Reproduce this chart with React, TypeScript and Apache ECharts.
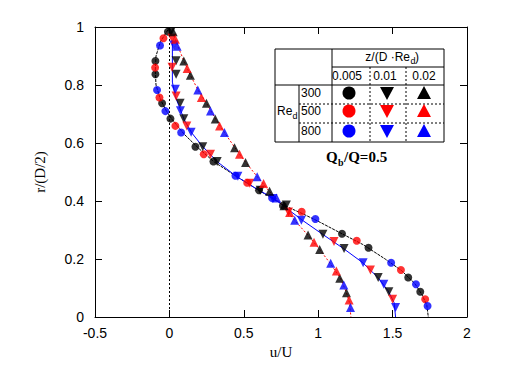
import React, { useEffect, useRef } from "react";
import * as echarts from "echarts";

// Measured points [u/U, r/(D/2)]
const re300_z005 = [[-0.01,0.984],[-0.094,0.883],[-0.094,0.837],[-0.049,0.737],[0.007,0.684],[0.175,0.587],[0.296,0.536],[0.602,0.437],[0.763,0.384],[1.16,0.287],[1.338,0.239],[1.605,0.136],[1.686,0.087]];
const re500_z005 = [[-0.04,0.961],[-0.096,0.86],[-0.067,0.757],[0.04,0.659],[0.231,0.561],[0.523,0.463],[0.889,0.363],[1.259,0.263],[1.556,0.162],[1.719,0.061]];
const re800_z005 = [[-0.063,0.936],[-0.083,0.783],[-0.027,0.71],[0.079,0.636],[0.444,0.487],[0.69,0.41],[0.981,0.338],[1.49,0.187],[1.657,0.113],[1.735,0.038]];

const re300_z001 = [[0.011,0.984],[0.045,0.884],[0.045,0.837],[0.072,0.737],[0.097,0.684],[0.224,0.587],[0.321,0.536],[0.61,0.437],[0.786,0.386],[1.032,0.285],[1.174,0.236],[1.403,0.136],[1.475,0.087]];
const re500_z001 = [[0.018,0.961],[0.018,0.861],[0.045,0.762],[0.117,0.659],[0.276,0.561],[0.54,0.461],[0.8,0.362],[1.106,0.26],[1.351,0.162],[1.5,0.061]];
const re800_z001 = [[0.029,0.938],[0.04,0.785],[0.074,0.711],[0.146,0.637],[0.46,0.485],[0.696,0.409],[0.887,0.334],[1.302,0.187],[1.441,0.113],[1.52,0.033]];

const re300_z002 = [[0.025,0.984],[0.097,0.883],[0.141,0.834],[0.249,0.737],[0.308,0.683],[0.438,0.584],[0.512,0.533],[0.673,0.434],[0.77,0.384],[0.932,0.283],[1.01,0.233],[1.145,0.134],[1.19,0.084]];
const re500_z002 = [[0.04,0.958],[0.119,0.857],[0.215,0.757],[0.337,0.659],[0.471,0.561],[0.633,0.46],[0.808,0.36],[0.972,0.258],[1.122,0.159],[1.208,0.059]];
const re800_z002 = [[0.052,0.934],[0.191,0.783],[0.276,0.71],[0.37,0.636],[0.59,0.484],[0.72,0.41],[0.842,0.334],[1.084,0.185],[1.172,0.11],[1.217,0.033]];

// Curves traced along the profiles
const curve_z005 = [[-0.01,0.99],[-0.06,0.95],[-0.09,0.9],[-0.095,0.85],[-0.09,0.8],[-0.06,0.75],[-0.02,0.71],[0.02,0.68],[0.1,0.63],[0.2,0.58],[0.3,0.535],[0.45,0.485],[0.6,0.437],[0.77,0.385],[0.9,0.355],[1.0,0.33],[1.16,0.287],[1.3,0.25],[1.45,0.2],[1.56,0.16],[1.65,0.115],[1.7,0.075],[1.73,0.04],[1.74,0.0]];
const curve_z001 = [[0.02,0.95],[0.02,0.81],[0.04,0.76],[0.07,0.72],[0.1,0.68],[0.15,0.635],[0.22,0.59],[0.32,0.536],[0.45,0.485],[0.6,0.437],[0.7,0.41],[0.8,0.37],[0.89,0.335],[1.03,0.285],[1.17,0.236],[1.3,0.187],[1.4,0.137],[1.47,0.09],[1.51,0.05],[1.52,0.0]];
const curve_z002 = [[0.03,0.97],[0.06,0.93],[0.1,0.88],[0.14,0.835],[0.19,0.785],[0.25,0.737],[0.31,0.683],[0.37,0.636],[0.44,0.584],[0.51,0.535],[0.59,0.484],[0.67,0.434],[0.76,0.385],[0.84,0.334],[0.93,0.283],[1.01,0.233],[1.08,0.185],[1.15,0.134],[1.19,0.084],[1.21,0.05],[1.22,0.0]];

const zLevels = ["0.005", "0.01", "0.02"];
const reLevels = ["300", "500", "800"];

const BLACK = "#000000";
const RED = "#ff0000";
const BLUE = "#0000ff";

export default function App() {
  const ref = useRef<HTMLDivElement>(null);
  useEffect(() => {
    document.body.style.margin = "0";
    const chart = echarts.init(ref.current!, null, { renderer: "svg" });
    const sans = "Liberation Sans";
    const serif = "Liberation Serif";

    const scatter = (name: string, data: number[][], color: string, kind: number) => ({
      name,
      type: "scatter",
      data,
      symbol: kind === 0 ? "circle" : "triangle",
      symbolRotate: kind === 1 ? 180 : 0,
      symbolSize: kind === 0 ? 8 : 9,
      itemStyle: { color },
      z: 5,
    });
    const curve = (data: number[][], color: string, type: any) => ({
      type: "line",
      data,
      showSymbol: false,
      symbol: "none",
      lineStyle: { color, width: 1, type },
      z: 3,
    });

    const txt = (text: string, x: number, y: number, opts: any = {}) => ({
      type: "text",
      x,
      y,
      style: {
        text,
        fontSize: 12,
        fontFamily: sans,
        fill: "#000",
        align: "center",
        textAlign: "center",
        verticalAlign: "middle",
        textVerticalAlign: "middle",
        ...opts,
      },
    });
    const ln = (x1: number, y1: number, x2: number, y2: number, dotted = false) => ({
      type: "line",
      shape: { x1, y1, x2, y2 },
      style: { stroke: "#000", lineWidth: 1, lineDash: dotted ? [2, 2] : null },
    });

    const colX = [349, 387, 424];
    const rowY = [93, 111, 131];
    const colors = [BLACK, RED, BLUE];
    const markers: any[] = [];
    rowY.forEach((cy, i) => {
      const c = colors[i];
      markers.push({ type: "circle", shape: { cx: colX[0], cy, r: 6.5 }, style: { fill: c } });
      const x1 = colX[1];
      markers.push({ type: "polygon", shape: { points: [[x1 - 7, cy - 6], [x1 + 7, cy - 6], [x1, cy + 7]] }, style: { fill: c } });
      const x2 = colX[2];
      markers.push({ type: "polygon", shape: { points: [[x2 - 7, cy + 6], [x2 + 7, cy + 6], [x2, cy - 7]] }, style: { fill: c } });
    });

    const zX = [347, 385, 424];
    const axisLine = { show: true, onZero: false, lineStyle: { color: "#000", width: 1 } };
    const tick = { show: true, inside: true, length: 7, lineStyle: { color: "#000" } };

    chart.setOption({
      animation: false,
      backgroundColor: "#ffffff",
      grid: { left: 95, right: 64, top: 27, bottom: 54 },
      xAxis: [
        {
          type: "value",
          position: "bottom",
          min: -0.5,
          max: 2,
          interval: 0.5,
          name: "u/U",
          nameLocation: "middle",
          nameGap: 27,
          nameTextStyle: { fontFamily: serif, fontSize: 15, color: "#000" },
          axisLine,
          axisTick: tick,
          axisLabel: { fontFamily: sans, fontSize: 14, color: "#000", margin: 9 },
          splitLine: { show: false },
        },
        {
          type: "value",
          position: "top",
          min: -0.5,
          max: 2,
          interval: 0.5,
          axisLine,
          axisTick: tick,
          axisLabel: { show: false },
          splitLine: { show: false },
        },
      ],
      yAxis: [
        {
          type: "value",
          position: "left",
          min: 0,
          max: 1,
          interval: 0.2,
          name: "r/(D/2)",
          nameLocation: "middle",
          nameGap: 48,
          nameRotate: 90,
          nameTextStyle: { fontFamily: serif, fontSize: 15, color: "#000" },
          axisLine,
          axisTick: tick,
          axisLabel: { fontFamily: sans, fontSize: 14, color: "#000", margin: 11 },
          splitLine: { show: false },
        },
        {
          type: "value",
          position: "right",
          min: 0,
          max: 1,
          interval: 0.2,
          axisLine,
          axisTick: tick,
          axisLabel: { show: false },
          splitLine: { show: false },
        },
      ],
      series: [
        {
          type: "line",
          data: [],
          markLine: {
            silent: true,
            symbol: "none",
            label: { show: false },
            lineStyle: { color: "#000", type: [2, 2], width: 1 },
            data: [[{ coord: [0, 0] }, { coord: [0, 1] }]],
          },
        },
        curve(curve_z005, BLACK, [3, 1]),
        curve(curve_z001, BLUE, "solid"),
        curve(curve_z002, RED, [2, 2]),
        scatter("300-0.005", re300_z005, BLACK, 0),
        scatter("500-0.005", re500_z005, RED, 0),
        scatter("800-0.005", re800_z005, BLUE, 0),
        scatter("300-0.01", re300_z001, BLACK, 1),
        scatter("500-0.01", re500_z001, RED, 1),
        scatter("800-0.01", re800_z001, BLUE, 1),
        scatter("300-0.02", re300_z002, BLACK, 2),
        scatter("500-0.02", re500_z002, RED, 2),
        scatter("800-0.02", re800_z002, BLUE, 2),
      ],
      graphic: [
        {
          type: "group",
          z: 100,
          children: [
            { type: "rect", shape: { x: 275, y: 49, width: 169, height: 93 }, style: { fill: "#fff", stroke: "#000", lineWidth: 1 } },
            ln(332, 49, 332, 142),
            ln(275, 85, 444, 85),
            ln(332, 67, 444, 67),
            ln(299, 85, 299, 142),
            ln(370, 67, 370, 142, true),
            ln(406, 67, 406, 142, true),
            ln(299, 104, 444, 104, true),
            ln(299, 123, 444, 123, true),
            txt("z/(D ·Re", 410, 57, { align: "right", textAlign: "right" }),
            txt("d", 410.5, 61, { fontSize: 9, align: "left", textAlign: "left" }),
            txt(")", 415, 57, { align: "left", textAlign: "left" }),
            txt(zLevels[0], zX[0], 76),
            txt(zLevels[1], zX[1], 76),
            txt(zLevels[2], zX[2], 76),
            txt(reLevels[0], 311, rowY[0]),
            txt(reLevels[1], 311, rowY[1]),
            txt(reLevels[2], 311, rowY[2]),
            txt("Re", 277, 111, { align: "left", textAlign: "left" }),
            txt("d", 292.5, 116, { fontSize: 9, align: "left", textAlign: "left" }),
            ...markers,
            txt("Q", 326, 157, { fontFamily: serif, fontSize: 15, fontWeight: "bold", align: "left", textAlign: "left" }),
            txt("b", 338, 162, { fontFamily: serif, fontSize: 10, fontWeight: "bold", align: "left", textAlign: "left" }),
            txt("/Q=0.5", 344, 157, { fontFamily: serif, fontSize: 15, fontWeight: "bold", align: "left", textAlign: "left" }),
          ],
        },
      ],
    });
    return () => chart.dispose();
  }, []);
  return <div ref={ref} style={{ width: 531, height: 371 }} />;
}
